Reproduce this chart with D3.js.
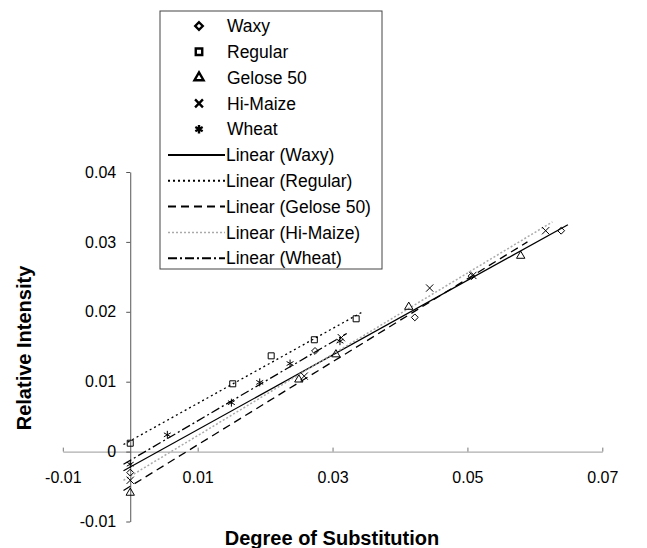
<!DOCTYPE html>
<html lang="en">
<head>
<meta charset="utf-8">
<title>Relative Intensity vs Degree of Substitution</title>
<script src="https://d3js.org/d3.v7.min.js"></script>
<style>
    body { margin: 0; background: #fff; }
    svg text { font-family: "Liberation Sans", Arial, sans-serif; fill: #000; }
    .axis-title { font-weight: bold; font-size: 20px; }
    .tick-label { font-size: 16px; }
    .legend text { font-size: 17.5px; }
</style>
</head>
<body>
<script>
const w = 647;
const h = 548;

// data
const seriesNames = ["Waxy", "Regular", "Gelose 50", "Hi-Maize", "Wheat"];

const waxyDS = [0, 0.0274, 0.0422, 0.0506, 0.0639];
const waxyRI = [-0.0030, 0.0144, 0.0192, 0.0251, 0.0316];

const regularDS = [0, 0.0152, 0.0209, 0.0273, 0.0335];
const regularRI = [0.0012, 0.0097, 0.0137, 0.0160, 0.0190];

const geloseDS = [0, 0.0250, 0.0305, 0.0413, 0.0579];
const geloseRI = [-0.0059, 0.0103, 0.0139, 0.0207, 0.0280];

const hiMaizeDS = [0, 0.0258, 0.0313, 0.0444, 0.0508, 0.0616];
const hiMaizeRI = [-0.0041, 0.0108, 0.0163, 0.0234, 0.0252, 0.0316];

const wheatDS = [0, 0.0055, 0.0150, 0.0192, 0.0237, 0.0311];
const wheatRI = [-0.0018, 0.0024, 0.0070, 0.0099, 0.0126, 0.0158];

const xTicks = [-0.01, 0.01, 0.03, 0.05, 0.07];
const yTicks = [-0.01, 0, 0.01, 0.02, 0.03, 0.04];
const trendPad = 0.001;  // small forecast each side, like the excel trendlines

const series = [
    {name: seriesNames[0], xs: waxyDS,    ys: waxyRI,    symbol: d3.symbolDiamond2, size: 30, dash: null,      color: "#000"},
    {name: seriesNames[1], xs: regularDS, ys: regularRI, symbol: d3.symbolSquare,   size: 36, dash: "2,3",     color: "#000"},
    {name: seriesNames[2], xs: geloseDS,  ys: geloseRI,  symbol: d3.symbolTriangle, size: 30, dash: "8,5",     color: "#000"},
    {name: seriesNames[3], xs: hiMaizeDS, ys: hiMaizeRI, symbol: d3.symbolX,        size: 36, dash: "2,2",     color: "#aaa"},
    {name: seriesNames[4], xs: wheatDS,   ys: wheatRI,   symbol: d3.symbolAsterisk, size: 44, dash: "9,3,2,3", color: "#000"}
];

// least squares line
function fit(xs, ys) {
    const mx = d3.mean(xs), my = d3.mean(ys);
    let sxy = 0, sxx = 0;
    xs.forEach((x, i) => { sxy += (x - mx) * (ys[i] - my); sxx += (x - mx) * (x - mx); });
    const slope = sxy / sxx;
    return {slope: slope, intercept: my - slope * mx};
}

// plain hyphen for negatives, like the original
const fmt = d => d === 0 ? "0" : d3.format(".2f")(d).replace("\u2212", "-");

const xScale = d3.scaleLinear().domain([-0.01, 0.07]).range([62.8, 602.3]);
const yScale = d3.scaleLinear().domain([-0.01, 0.04]).range([521.5, 172]);

const svg = d3.select("body").append("svg")
    .attr("width", w)
    .attr("height", h);

// x axis (crosses at y = 0)
const bottomAxis = d3.axisBottom(xScale)
    .tickValues(xTicks)
    .tickSize(0)
    .tickPadding(20)
    .tickFormat(fmt);

const gx = svg.append("g")
    .attr("transform", "translate(0," + yScale(0) + ")")
    .call(bottomAxis);
gx.select(".domain").attr("stroke", "#999");
gx.selectAll(".tick text").attr("class", "tick-label").style("font-size", "16px");
gx.selectAll(".tick").append("line")
    .attr("y1", 0).attr("y2", -4)
    .attr("stroke", "#777");

// y axis at x = 0
const leftAxis = d3.axisLeft(yScale)
    .tickValues(yTicks)
    .tickSize(4)
    .tickSizeOuter(0)
    .tickPadding(10)
    .tickFormat(fmt);

const gy = svg.append("g")
    .attr("transform", "translate(" + xScale(0) + ",0)")
    .call(leftAxis);
gy.select(".domain").attr("stroke", "#555");
gy.selectAll(".tick line").attr("stroke", "#555");
gy.selectAll(".tick text").attr("class", "tick-label").style("font-size", "16px");

// trendlines
series.forEach(s => {
    const f = fit(s.xs, s.ys);
    const x0 = d3.min(s.xs) - trendPad, x1 = d3.max(s.xs) + trendPad;
    svg.append("line")
        .attr("x1", xScale(x0)).attr("y1", yScale(f.slope * x0 + f.intercept))
        .attr("x2", xScale(x1)).attr("y2", yScale(f.slope * x1 + f.intercept))
        .attr("stroke", s.color)
        .attr("stroke-width", s.color === "#aaa" ? 1.5 : 1.3)
        .attr("stroke-dasharray", s.dash);
});

// points
series.forEach(s => {
    svg.append("g").selectAll("path")
        .data(s.xs.map((x, i) => [x, s.ys[i]]))
        .join("path")
        .attr("transform", d => "translate(" + xScale(d[0]) + "," + yScale(d[1]) + ")")
        .attr("d", d3.symbol().type(s.symbol).size(s.size))
        .attr("fill", "none")
        .attr("stroke", "#000")
        .attr("stroke-width", 1);
});

// legend
const legend = svg.append("g").attr("class", "legend");
legend.append("rect")
    .attr("x", 160).attr("y", 11)
    .attr("width", 222).attr("height", 258)
    .attr("fill", "#fff")
    .attr("stroke", "#444");

const rowY = i => 26 + i * 25.8;

series.forEach((s, i) => {
    legend.append("path")
        .attr("transform", "translate(199," + rowY(i) + ")")
        .attr("d", d3.symbol().type(s.symbol).size(s.size + 6))
        .attr("fill", "none")
        .attr("stroke", "#000")
        .attr("stroke-width", 2.4);
    legend.append("text")
        .attr("x", 227).attr("y", rowY(i))
        .attr("dy", "0.35em")
        .text(s.name);
});

series.forEach((s, i) => {
    const y = rowY(i + 5);
    legend.append("line")
        .attr("x1", 168).attr("x2", 225)
        .attr("y1", y).attr("y2", y)
        .attr("stroke", s.color)
        .attr("stroke-width", s.color === "#aaa" ? 1.5 : 2)
        .attr("stroke-dasharray", s.dash);
    legend.append("text")
        .attr("x", 226).attr("y", y)
        .attr("dy", "0.35em")
        .text("Linear (" + s.name + ")");
});

// axis titles
svg.append("text")
    .attr("class", "axis-title")
    .attr("x", 332).attr("y", 545)
    .attr("text-anchor", "middle")
    .text("Degree of Substitution");

svg.append("text")
    .attr("class", "axis-title")
    .attr("transform", "translate(31,348) rotate(-90)")
    .attr("text-anchor", "middle")
    .text("Relative Intensity");
</script>
</body>
</html>
